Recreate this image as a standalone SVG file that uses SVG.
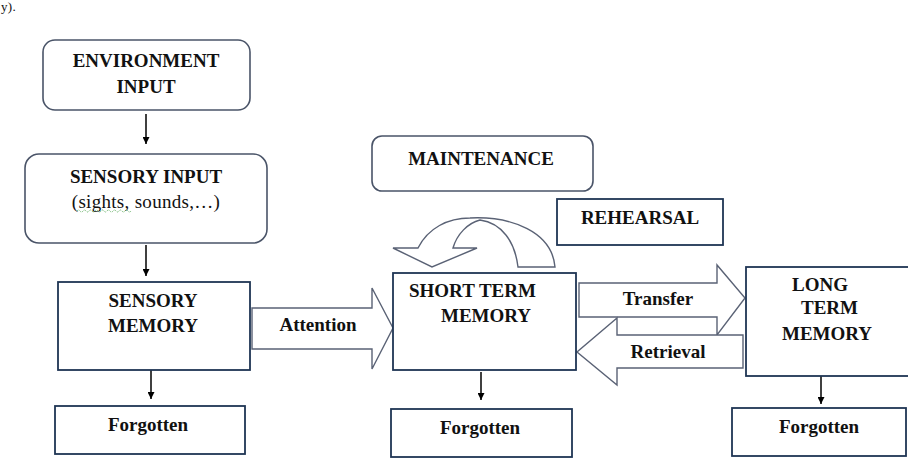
<svg xmlns="http://www.w3.org/2000/svg" width="908" height="470" viewBox="0 0 908 470">
<style>
.t{font-family:"Liberation Serif","Times New Roman",serif;font-weight:bold;font-size:19px;fill:#111}
.tc{text-anchor:middle}
.r{font-family:"Liberation Serif","Times New Roman",serif;font-size:19px;fill:#111;letter-spacing:0.3px}
.rb{fill:#fff;stroke:#4a5468;stroke-width:1.6}
.bx{fill:#fff;stroke:#1f3554;stroke-width:1.8}
.ba{fill:#fff;stroke:#5a6275;stroke-width:1.4;stroke-linejoin:miter}
.ln{stroke:#000;stroke-width:1.5;fill:none}
</style>
<defs>
<marker id="ah" viewBox="0 0 10 10" refX="10" refY="5" markerWidth="7" markerHeight="7" markerUnits="userSpaceOnUse" orient="auto">
<path d="M0,0 L10,5 L0,10 Z" fill="#000"/>
</marker>
</defs>
<rect width="908" height="470" fill="#fff"/>
<text class="r" x="1" y="11" style="font-size:13px">y).</text>

<g id="connectors">
<line class="ln" x1="146" y1="114" x2="146" y2="144" marker-end="url(#ah)"/>
<line class="ln" x1="146" y1="245" x2="146" y2="276" marker-end="url(#ah)"/>
<line class="ln" x1="151" y1="370" x2="151" y2="399" marker-end="url(#ah)"/>
<line class="ln" x1="481" y1="372" x2="481" y2="400" marker-end="url(#ah)"/>
<line class="ln" x1="821" y1="375" x2="821" y2="404" marker-end="url(#ah)"/>
<g id="attention">
<path class="ba" d="M252,308 L372,308 L372,288 L393,328 L372,369 L372,349 L252,349 Z"/>
<text class="t tc" x="318" y="331">Attention</text>
</g>
<g id="transfer">
<path class="ba" d="M579,283 L717,283 L717,265 L745,298 L717,335 L717,317 L579,317 Z"/>
<text class="t tc" x="658" y="305">Transfer</text>
</g>
<g id="retrieval">
<path class="ba" d="M743,335 L617,335 L617,318 L577,352 L617,385 L617,368 L743,368 Z"/>
<text class="t tc" x="668" y="358">Retrieval</text>
</g>
<g id="rehearsal-loop">
<path class="ba" d="M418,248 C428,228 448,218 470,218 C512,216 552,232 555,267 L518,267 C515,242 502,223 480,220 C468,223 457,234 453,248 L477,248 L432,267 L393,248 Z"/>
</g>
</g>

<g id="environment-input">
<rect class="rb" x="43" y="40" width="207" height="70" rx="12"/>
<text class="t tc" x="146" y="67">ENVIRONMENT</text>
<text class="t tc" x="146" y="93">INPUT</text>
</g>

<g id="sensory-input">
<rect class="rb" x="25" y="154" width="242" height="89" rx="14"/>
<text class="t tc" x="146" y="183">SENSORY  INPUT</text>
<text class="r tc" x="146" y="208">(sights, sounds,…)</text>
<path d="M77,211 q1.5,-2 3,0 t3,0 t3,0 t3,0 t3,0 t3,0 t3,0 t3,0 t3,0 t3,0 t3,0 t3,0 t3,0 t3,0 t3,0 t3,0 t3,0 t3,0" fill="none" stroke="#3a9a3a" stroke-width="0.8" stroke-dasharray="1,1"/>
</g>

<g id="sensory-memory">
<rect class="bx" x="58" y="282" width="192" height="88"/>
<text class="t tc" x="153" y="307">SENSORY</text>
<text class="t tc" x="153" y="332">MEMORY</text>
</g>

<g id="forgotten-1">
<rect class="bx" x="55" y="406" width="190" height="48"/>
<text class="t tc" x="148" y="431">Forgotten</text>
</g>

<g id="maintenance">
<rect class="rb" x="372" y="136" width="221" height="55" rx="10"/>
<text class="t tc" x="481" y="165">MAINTENANCE</text>
</g>

<g id="rehearsal">
<rect class="bx" x="557" y="199" width="166" height="46"/>
<text class="t tc" x="640" y="224">REHEARSAL</text>
</g>

<g id="short-term-memory">
<rect class="bx" x="393" y="273" width="183" height="97"/>
<text class="t" x="409" y="297">SHORT TERM</text>
<text class="t" x="441" y="322">MEMORY</text>
</g>

<g id="forgotten-2">
<rect class="bx" x="391" y="409" width="181" height="48"/>
<text class="t tc" x="480" y="434">Forgotten</text>
</g>

<g id="long-term-memory">
<rect class="bx" x="746" y="267" width="180" height="109"/>
<text class="t" x="792" y="291">LONG</text>
<text class="t" x="801" y="314">TERM</text>
<text class="t" x="782" y="340">MEMORY</text>
</g>

<g id="forgotten-3">
<rect class="bx" x="732" y="408" width="174" height="48"/>
<text class="t tc" x="819" y="433">Forgotten</text>
</g>
</svg>
